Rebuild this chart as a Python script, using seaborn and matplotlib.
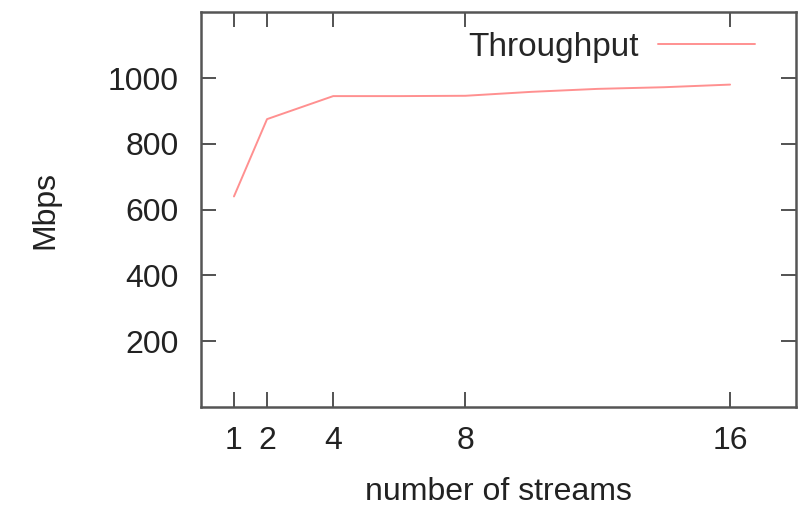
import pandas as pd
import matplotlib
matplotlib.use("Agg")
import matplotlib.pyplot as plt
import seaborn as sns

# dados
streams = [1, 2, 4, 6, 8, 10, 12, 14, 16]
mbps = [640, 875, 945, 945, 946, 958, 967, 972, 980]
x_ticks = [1, 2, 4, 8, 16]
y_ticks = [200, 400, 600, 800, 1000]

df = pd.DataFrame({"streams": streams, "Throughput": mbps})

sns.set_style("ticks")
plt.rcParams["font.family"] = ["Liberation Sans", "DejaVu Sans"]

fig = plt.figure(figsize=(8.1, 5.09), dpi=100)
ax = fig.add_axes([0.248, 0.2004, 0.735, 0.7756])

sns.lineplot(data=df, x="streams", y="Throughput", color="#ff9090",
             linewidth=1.4, label="Throughput", ax=ax)

ax.set_xlim(0, 18)
ax.set_ylim(0, 1200)
ax.set_xticks(x_ticks)
ax.set_yticks(y_ticks)
ax.tick_params(direction="in", length=11, width=1.3, color="#444444",
               labelsize=23, labelcolor="#222222", top=True, right=True)
ax.tick_params(axis="y", pad=16)
ax.tick_params(axis="x", pad=14)
for s in ax.spines.values():
    s.set_color("#555555")
    s.set_linewidth(1.8)

ax.set_xlabel("number of streams", fontsize=23, color="#222222", labelpad=15)
ax.set_ylabel("Mbps", fontsize=23, color="#222222", labelpad=34)

ax.legend(loc="upper right", frameon=False, markerfirst=False, fontsize=24,
          handlelength=2.9, handletextpad=0.6, bbox_to_anchor=(0.97, 1.01),
          borderaxespad=0.3)

plt.savefig("out.png", dpi=100)
plt.close()
